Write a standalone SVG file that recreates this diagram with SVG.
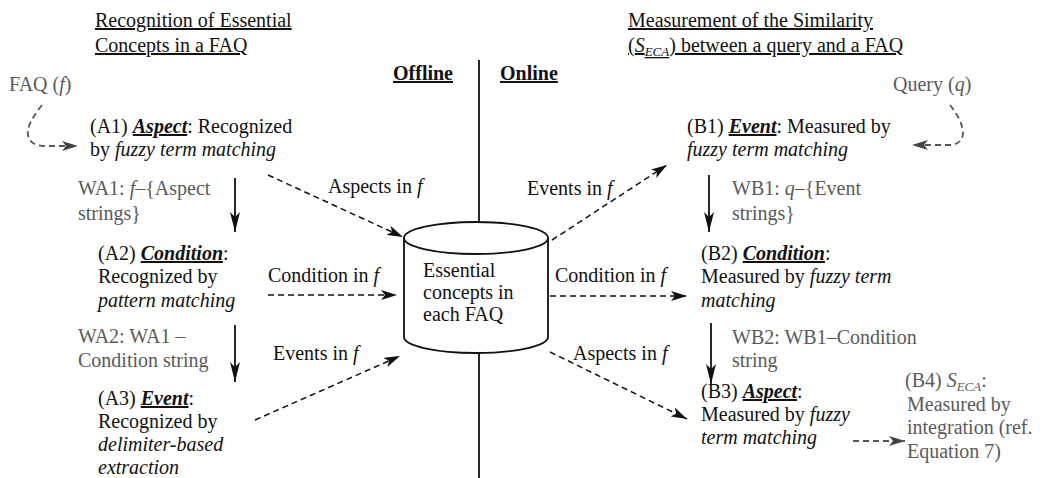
<svg xmlns="http://www.w3.org/2000/svg" width="1045" height="478" viewBox="0 0 1045 478">
<style>
text{font-family:"Liberation Serif","Times New Roman",serif;font-size:20px;fill:#111}
.g{fill:#5a5a5a}
.i{font-style:italic}
.b{font-weight:bold}
.u{text-decoration:underline}
.k{font-weight:bold;font-style:italic;text-decoration:underline}
.sub{font-size:13px;font-style:italic}
.dash{fill:none;stroke:#111;stroke-width:1.5;stroke-dasharray:6 4}
.solid{fill:none;stroke:#111;stroke-width:1.8}
.gdash{fill:none;stroke:#555;stroke-width:1.8;stroke-dasharray:6 4}
</style>
<defs>
<marker id="ah" viewBox="0 0 16 10" refX="16" refY="5" markerWidth="16" markerHeight="10" orient="auto" markerUnits="userSpaceOnUse">
<path d="M0,0 L16,5 L0,10 L4,5 z" fill="#111"/>
</marker>
<marker id="av" viewBox="0 0 10 20" refX="5" refY="20" markerWidth="10" markerHeight="20" orient="0" markerUnits="userSpaceOnUse">
<path d="M0,0 L5,20 L10,0 L5,5 z" fill="#111"/>
</marker>
<marker id="ag" viewBox="0 0 16 10" refX="16" refY="5" markerWidth="16" markerHeight="10" orient="auto" markerUnits="userSpaceOnUse">
<path d="M0,0 L16,5 L0,10 L4,5 z" fill="#444"/>
</marker>
</defs>

<g id="titles">
<text x="95" y="27" class="u">Recognition of Essential</text>
<text x="95" y="52" class="u">Concepts in a FAQ</text>
<text x="628" y="27" class="u">Measurement of the Similarity</text>
<text x="628" y="52" class="u">(<tspan class="i">S</tspan><tspan class="sub" dy="4">ECA</tspan><tspan dy="-4">) between a query and a FAQ</tspan></text>
<text x="393" y="80" class="b u">Offline</text>
<text x="500" y="80" class="b u">Online</text>
</g>

<g id="divider">
<line x1="479" y1="60" x2="479" y2="223" stroke="#111" stroke-width="1.8"/>
<line x1="479" y1="352" x2="479" y2="478" stroke="#111" stroke-width="1.8"/>
</g>

<g id="connectors">
<path class="gdash" d="M42,105 Q26,125 28,135 Q30,146 45,146 L78,146" marker-end="url(#ag)"/>
<path class="gdash" d="M950,105 Q962,120 963,132 Q963,145 948,145 L912,145" marker-end="url(#ag)"/>
<line class="solid" x1="235" y1="178" x2="235" y2="232" marker-end="url(#av)"/>
<line class="solid" x1="235" y1="325" x2="235" y2="382" marker-end="url(#av)"/>
<line class="solid" x1="709" y1="175" x2="709" y2="232" marker-end="url(#av)"/>
<line class="solid" x1="711" y1="323" x2="711" y2="384" marker-end="url(#av)"/>
<path class="dash" d="M268,175 L403,237" marker-end="url(#ah)"/>
<path class="dash" d="M268,295 L397,295" marker-end="url(#ah)"/>
<path class="dash" d="M255,420 L400,356" marker-end="url(#ah)"/>
<path class="dash" d="M552,240 L667,165" marker-end="url(#ah)"/>
<path class="dash" d="M550,296 L687,296" marker-end="url(#ah)"/>
<path class="dash" d="M550,352 L687,419" marker-end="url(#ah)"/>
<path class="gdash" d="M853,441 L905,441" marker-end="url(#ag)"/>
<text x="328" y="193">Aspects in <tspan class="i">f</tspan></text>
<text x="268" y="282">Condition in <tspan class="i">f</tspan></text>
<text x="273" y="360">Events in <tspan class="i">f</tspan></text>
<text x="527" y="195">Events in <tspan class="i">f</tspan></text>
<text x="555" y="282">Condition in <tspan class="i">f</tspan></text>
<text x="573" y="360">Aspects in <tspan class="i">f</tspan></text>
</g>

<g id="store">
<path d="M404,238 L404,337 A72,16 0 0 0 548,337 L548,238" fill="#fff" stroke="#111" stroke-width="1.8"/>
<ellipse cx="476" cy="238" rx="72" ry="16" fill="#fff" stroke="#111" stroke-width="1.8"/>
<text x="423" y="277">Essential</text>
<text x="423" y="299">concepts in</text>
<text x="423" y="321">each FAQ</text>
</g>

<g id="faq"><text x="9" y="91" class="g">FAQ (<tspan class="i">f</tspan>)</text></g>
<g id="query"><text x="893" y="91" class="g">Query (<tspan class="i">q</tspan>)</text></g>

<g id="A1">
<text x="90" y="133">(A1) <tspan class="k">Aspect</tspan>: Recognized</text>
<text x="90" y="156">by <tspan class="i">fuzzy term matching</tspan></text>
</g>
<g id="WA1">
<text x="78" y="195" class="g">WA1: <tspan class="i">f</tspan>–{Aspect</text>
<text x="78" y="220" class="g">strings}</text>
</g>
<g id="A2">
<text x="98" y="260">(A2) <tspan class="k">Condition</tspan>:</text>
<text x="98" y="283">Recognized by</text>
<text x="98" y="307" class="i">pattern matching</text>
</g>
<g id="WA2">
<text x="78" y="343" class="g">WA2: WA1 –</text>
<text x="78" y="367" class="g">Condition string</text>
</g>
<g id="A3">
<text x="98" y="405">(A3) <tspan class="k">Event</tspan>:</text>
<text x="98" y="428">Recognized by</text>
<text x="98" y="451" class="i">delimiter-based</text>
<text x="98" y="474" class="i">extraction</text>
</g>

<g id="B1">
<text x="687" y="133">(B1) <tspan class="k">Event</tspan>: Measured by</text>
<text x="687" y="156" class="i">fuzzy term matching</text>
</g>
<g id="WB1">
<text x="732" y="195" class="g">WB1: <tspan class="i">q</tspan>–{Event</text>
<text x="732" y="220" class="g">strings}</text>
</g>
<g id="B2">
<text x="701" y="260">(B2) <tspan class="k">Condition</tspan>:</text>
<text x="701" y="283">Measured by <tspan class="i">fuzzy term</tspan></text>
<text x="701" y="307" class="i">matching</text>
</g>
<g id="WB2">
<text x="732" y="344" class="g">WB2: WB1–Condition</text>
<text x="732" y="367" class="g">string</text>
</g>
<g id="B3">
<text x="701" y="398">(B3) <tspan class="k">Aspect</tspan>:</text>
<text x="701" y="421">Measured by <tspan class="i">fuzzy</tspan></text>
<text x="701" y="444" class="i">term matching</text>
</g>
<g id="B4">
<text x="905" y="387" class="g">(B4) <tspan class="i">S</tspan><tspan class="sub" dy="4">ECA</tspan><tspan dy="-4">:</tspan></text>
<text x="907" y="411" class="g">Measured by</text>
<text x="907" y="434" class="g">integration (ref.</text>
<text x="907" y="458" class="g">Equation 7)</text>
</g>
</svg>
